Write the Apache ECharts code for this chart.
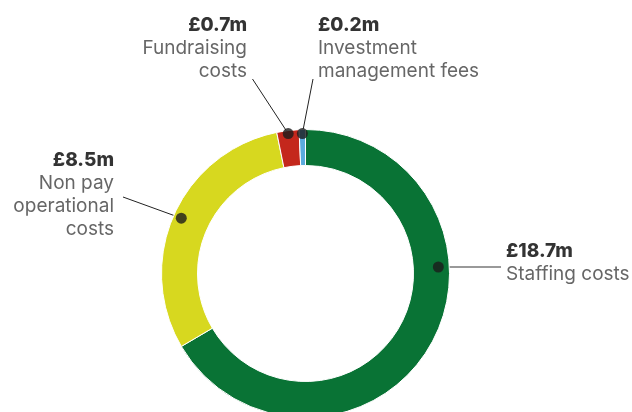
<!DOCTYPE html>
<html>
<head>
<meta charset="utf-8">
<script src="https://cdn.jsdelivr.net/npm/echarts@6/dist/echarts.min.js"></script>
<style>
  html, body { margin: 0; padding: 0; background: #fff; }
  #chart { width: 632px; height: 412px; }
</style>
</head>
<body>
<div id="chart"></div>
<script>
  // data
  const categories = ['Staffing costs', 'Non pay operational costs', 'Fundraising costs', 'Investment management fees'];
  const values = [18.7, 8.5, 0.7, 0.2];
  const valueLabels = ['£18.7m', '£8.5m', '£0.7m', '£0.2m'];
  const nameLines = [['Staffing costs'], ['Non pay', 'operational', 'costs'], ['Fundraising', 'costs'], ['Investment', 'management fees']];
  const colors = ['#097335', '#d7d81f', '#c4271c', '#5aabdd'];

  // layout
  const CENTER = [305.5, 273.5];
  const anchorFrac = [0.364, 0.5, 0.5, 0.5];
  const dotRadius = [133, 136, 141, 140];
  const labelPos = [
    {x: 506, y: 240, align: 'left'},
    {x: 114, y: 149, align: 'right'},
    {x: 247, y: 14, align: 'right'},
    {x: 318, y: 14, align: 'left'}
  ];
  const lineEnd = [[501, 267], [123, 197], [252.5, 79], [313, 79]];
  const lineColor = ['#777', '#222', '#222', '#222'];
  const lineWidth = [1.5, 1, 1, 1];

  const total = values.reduce((a, b) => a + b, 0);
  let acc = 0;
  const dots = values.map((v, i) => {
    const p = [dotRadius[i], acc + v * anchorFrac[i]];
    acc += v;
    return p;
  });

  const FONT = 'Inter, "Noto Sans", sans-serif';

  const myChart = echarts.init(document.getElementById('chart'));
  myChart.setOption({
    animation: false,
    polar: {center: CENTER, radius: 144},
    radiusAxis: {type: 'value', min: 0, max: 144, show: false},
    angleAxis: {type: 'value', min: 0, max: total, startAngle: 90, clockwise: true, show: false},
    series: [
      {
        type: 'pie',
        center: CENTER,
        radius: [108, 144],
        startAngle: 90,
        clockwise: true,
        silent: true,
        label: {show: false},
        labelLine: {show: false},
        itemStyle: {borderColor: '#fff', borderWidth: 1},
        data: values.map((v, i) => ({name: categories[i], value: v, itemStyle: {color: colors[i]}}))
      },
      {
        type: 'scatter',
        coordinateSystem: 'polar',
        symbol: 'circle',
        symbolSize: 11,
        silent: true,
        z: 5,
        itemStyle: {color: '#1c1c1c'},
        data: dots,
        label: {
          show: true,
          fontFamily: FONT,
          formatter: p => {
            const s = labelPos[p.dataIndex].align === 'right' ? 'r' : 'l';
            return '{v' + s + '|' + valueLabels[p.dataIndex] + '}\n' +
              nameLines[p.dataIndex].map(t => '{n' + s + '|' + t + '}').join('\n');
          },
          rich: {
            vl: {fontFamily: FONT, fontSize: 19, fontWeight: 800, color: '#000', lineHeight: 23, align: 'left'},
            nl: {fontFamily: FONT, fontSize: 19, color: '#404040', lineHeight: 23, align: 'left'},
            vr: {fontFamily: FONT, fontSize: 19, fontWeight: 800, color: '#000', lineHeight: 23, align: 'right'},
            nr: {fontFamily: FONT, fontSize: 19, color: '#404040', lineHeight: 23, align: 'right'}
          }
        },
        labelLayout: params => {
          const p = labelPos[params.dataIndex];
          return {x: p.x, y: p.y, align: p.align, verticalAlign: 'top'};
        }
      }
    ]
  });

  // leader lines from each dot to its label
  const leaders = dots.map((d, i) => {
    const pt = myChart.convertToPixel({seriesIndex: 1}, d);
    return {
      type: 'line',
      z: 1,
      silent: true,
      shape: {x1: pt[0], y1: pt[1], x2: lineEnd[i][0], y2: lineEnd[i][1]},
      style: {stroke: lineColor[i], lineWidth: lineWidth[i]}
    };
  });
  myChart.setOption({graphic: leaders});
</script>
</body>
</html>
